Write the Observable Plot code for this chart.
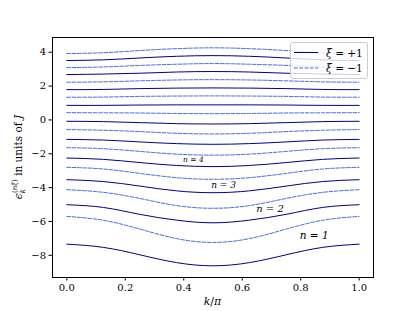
<!DOCTYPE html>
<html>
<head>
<meta charset="utf-8">
<script src="https://cdn.jsdelivr.net/npm/d3@7"></script>
<script src="https://cdn.jsdelivr.net/npm/@observablehq/plot@0.6"></script>
<style>
  html, body { margin: 0; padding: 0; background: #fff; }
  #chart { width: 415px; height: 311px; }
</style>
</head>
<body>
<div id="chart"></div>
<script>
// momentum k/π sample points
const kValues = [0, 0.125, 0.25, 0.375, 0.5, 0.625, 0.75, 0.875, 1];

// ξ = +1 bands (solid), n = 1 .. 10
const xiPlusBands = [
  [-7.34, -7.53, -7.97, -8.43, -8.62, -8.43, -7.97, -7.53, -7.34],
  [-5.01, -5.17, -5.58, -5.92, -6.08, -5.92, -5.58, -5.17, -5.01],
  [-3.53, -3.64, -3.91, -4.19, -4.30, -4.19, -3.91, -3.64, -3.53],
  [-2.25, -2.33, -2.52, -2.69, -2.76, -2.69, -2.52, -2.33, -2.25],
  [-1.15, -1.19, -1.30, -1.40, -1.44, -1.40, -1.30, -1.19, -1.15],
  [-0.08, -0.10, -0.16, -0.22, -0.24, -0.22, -0.16, -0.10, -0.08],
  [0.86, 0.86, 0.88, 0.89, 0.89, 0.89, 0.88, 0.86, 0.86],
  [1.79, 1.80, 1.85, 1.88, 1.89, 1.88, 1.85, 1.80, 1.79],
  [2.68, 2.71, 2.76, 2.83, 2.86, 2.83, 2.76, 2.71, 2.68],
  [3.51, 3.55, 3.66, 3.76, 3.80, 3.76, 3.66, 3.55, 3.51]
];

// ξ = −1 bands (dashed), n = 1 .. 10
const xiMinusBands = [
  [-5.70, -5.93, -6.45, -7.01, -7.24, -7.01, -6.45, -5.93, -5.70],
  [-4.12, -4.28, -4.64, -5.06, -5.22, -5.06, -4.64, -4.28, -4.12],
  [-2.80, -2.90, -3.16, -3.41, -3.51, -3.41, -3.16, -2.90, -2.80],
  [-1.64, -1.70, -1.86, -2.02, -2.08, -2.02, -1.86, -1.70, -1.64],
  [-0.57, -0.61, -0.69, -0.79, -0.83, -0.79, -0.69, -0.61, -0.57],
  [0.43, 0.42, 0.41, 0.38, 0.37, 0.38, 0.41, 0.42, 0.43],
  [1.34, 1.35, 1.39, 1.41, 1.42, 1.41, 1.39, 1.35, 1.34],
  [2.23, 2.25, 2.31, 2.36, 2.38, 2.36, 2.31, 2.25, 2.23],
  [3.09, 3.13, 3.22, 3.29, 3.33, 3.29, 3.22, 3.13, 3.09],
  [3.92, 3.97, 4.10, 4.21, 4.26, 4.21, 4.10, 3.97, 3.92]
];

// band labels: text, k position, energy position
const bandLabelText = ["n = 1", "n = 2", "n = 3", "n = 4"];
const bandLabelK = [0.846, 0.695, 0.536, 0.433];
const bandLabelE = [-6.85, -5.25, -3.83, -2.35];
const bandLabelSize = [10.5, 10, 9, 7.5];

const xTicks = [0, 0.2, 0.4, 0.6, 0.8, 1.0];
const yTicks = [-8, -6, -4, -2, 0, 2, 4];
const legendLabels = ["ξ = +1", "ξ = −1"];

const solidColor = "#00008b";
const dashedColor = "#4169e1";
const serif = "DejaVu Serif";

function toRows(bands, xi) {
  const rows = [];
  bands.forEach((vals, i) => {
    vals.forEach((e, j) => rows.push({k: kValues[j], e, n: i + 1, xi}));
  });
  return rows;
}
const plusRows = toRows(xiPlusBands, 1);
const minusRows = toRows(xiMinusBands, -1);
const labelRows = bandLabelText.map((t, i) => ({t, k: bandLabelK[i], e: bandLabelE[i], s: bandLabelSize[i]}));

const fmtMinus = d => (d < 0 ? "\u2212" + Math.abs(d) : String(d));

const plot = Plot.plot({
  width: 415,
  height: 311,
  marginLeft: 52,
  marginRight: 42,
  marginTop: 37,
  marginBottom: 34,
  style: {fontSize: "10px", color: "#000", background: "#fff", fontFamily: serif},
  x: {domain: [-0.049, 1.049], ticks: xTicks, tickFormat: d => d.toFixed(1), tickSize: 3.5, tickPadding: 3, label: null},
  y: {domain: [-9.31, 4.87], ticks: yTicks, tickFormat: fmtMinus, tickSize: 3.5, tickPadding: 3, label: null},
  marks: [
    Plot.line(minusRows, {x: "k", y: "e", z: "n", stroke: dashedColor, strokeWidth: 1, strokeDasharray: "3.7,1.6", curve: "natural"}),
    Plot.line(plusRows, {x: "k", y: "e", z: "n", stroke: solidColor, strokeWidth: 1, curve: "natural"}),
    Plot.text(labelRows, {x: "k", y: "e", text: "t", fontSize: "s", fontStyle: "italic", fill: "#000"}),
    Plot.frame({stroke: "#000", strokeWidth: 1})
  ]
});
document.getElementById("chart").appendChild(plot);

const svg = d3.select(plot);
svg.attr("font-family", serif);
svg.selectAll("[aria-label='x-axis tick label'] text, [aria-label='y-axis tick label'] text").attr("fill", "#000");

// x-axis label
svg.append("text")
  .attr("x", 212.5).attr("y", 305)
  .attr("text-anchor", "middle")
  .attr("font-size", 11)
  .attr("fill", "#000")
  .call(t => {
    t.append("tspan").attr("font-style", "italic").text("k");
    t.append("tspan").text("/");
    t.append("tspan").attr("font-style", "italic").text("π");
  });

// y-axis label
const yl = svg.append("text")
  .attr("transform", "translate(22,157) rotate(-90)")
  .attr("text-anchor", "middle")
  .attr("font-size", 10.5)
  .attr("fill", "#000");
yl.append("tspan").attr("font-style", "italic").text("ϵ");
yl.append("tspan").attr("font-size", 7).attr("font-style", "italic").attr("dy", 3).text("k");
yl.append("tspan").attr("font-size", 7).attr("dx", -4).attr("dy", -8).text("(");
yl.append("tspan").attr("font-size", 7).attr("font-style", "italic").text("nξ");
yl.append("tspan").attr("font-size", 7).text(")");
yl.append("tspan").attr("dy", 5).text(" in units of ");
yl.append("tspan").attr("font-style", "italic").text("J");

// legend
const lg = svg.append("g").attr("text-anchor", "start");
lg.append("rect")
  .attr("x", 290.5).attr("y", 42.5).attr("width", 77).attr("height", 36)
  .attr("rx", 2.5).attr("fill", "#fff").attr("fill-opacity", 0.8)
  .attr("stroke", "#cccccc").attr("stroke-width", 1);
const legendStyles = [
  {color: solidColor, dash: null},
  {color: dashedColor, dash: "3.7,1.6"}
];
legendLabels.forEach((lab, i) => {
  const yy = 52.5 + i * 15.5;
  const ln = lg.append("line")
    .attr("x1", 294).attr("x2", 318).attr("y1", yy).attr("y2", yy)
    .attr("stroke", legendStyles[i].color).attr("stroke-width", 1);
  if (legendStyles[i].dash) ln.attr("stroke-dasharray", legendStyles[i].dash);
  const tx = lg.append("text").attr("x", 326).attr("y", yy + 4).attr("font-size", 10.5).attr("fill", "#000").attr("text-anchor", "start");
  tx.append("tspan").attr("font-style", "italic").text("ξ");
  tx.append("tspan").text(lab.slice(1));
});
</script>
</body>
</html>
